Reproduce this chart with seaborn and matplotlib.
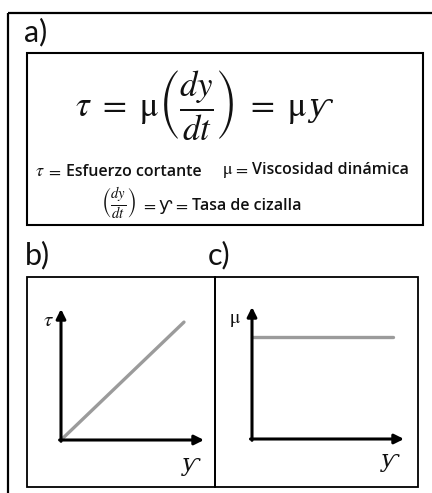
import matplotlib
matplotlib.use("Agg")
import matplotlib.pyplot as plt
import seaborn as sns
import pandas as pd
from matplotlib.patches import Rectangle

sns.set_theme(style="white")
plt.rcParams["font.family"] = ["Open Sans", "DejaVu Sans"]
plt.rcParams["mathtext.fontset"] = "stix"

# Newtonian fluid: shear stress grows linearly with shear rate,
# viscosity stays constant.
shear_rate_b = [0.0, 0.86]
shear_stress = [0.0, 0.90]
shear_rate_c = [0.0, 0.93]
viscosity = [0.77, 0.77]

panel_labels = ["a)", "b)", "c)"]
name_tau = "Esfuerzo cortante"
name_mu = "Viscosidad dinámica"
name_rate = "Tasa de cizalla"
RATE = "ƴ"
EQ = r"${=}$"

INK = "#111111"
GRAY = "#9b9b9b"
SERIF_IT = dict(family="DejaVu Serif", style="italic")

W, H = 432, 493
fig = plt.figure(figsize=(W / 100, H / 100), dpi=100)

# Canvas axis in pixel units for frames and text
bg = fig.add_axes([0, 0, 1, 1])
bg.set_xlim(0, W)
bg.set_ylim(H, 0)
bg.axis("off")


def put(x, y, s, size, ha="left", va="baseline", **kw):
    bg.text(x, y, s, fontsize=size, ha=ha, va=va, color=INK, **kw)


# Outer frame (top and left edges)
bg.plot([8, W], [13, 13], color="black", lw=1.6, solid_capstyle="butt")
bg.plot([8, 8], [13, H], color="black", lw=1.6, solid_capstyle="butt")

# Panel boxes
bg.add_patch(Rectangle((27, 53), 396, 172, fill=False, ec="black", lw=1.5))
bg.add_patch(Rectangle((27, 277), 188, 210, fill=False, ec="black", lw=1.3))
bg.add_patch(Rectangle((215, 277), 203, 210, fill=False, ec="black", lw=1.3))

# Panel labels
for lab, (x, y) in zip(panel_labels, [(24, 32), (25, 255), (208, 255)]):
    put(x, y, lab, 22, va="center", family="Lato")

# Main equation
put(75, 116, r"$\tau\ =\ \mathrm{\mu}\left(\dfrac{dy}{dt}\right)\ =\ \mathrm{\mu}$", 25)
put(308, 116, RATE, 22, **SERIF_IT)

# Definitions, first line
put(35, 176, r"$\tau$", 13)
put(46, 176, EQ, 12.5)
put(66, 176, name_tau, 11.5, fontweight="semibold")
put(222, 174, r"$\mathrm{\mu}$", 13)
put(233, 174, EQ, 12.5)
put(252, 174, name_mu, 11.5, fontweight="semibold")

# Definitions, second line
put(101, 203, r"$\left(\frac{dy}{dt}\right)$", 15, va="center")
put(141, 210, EQ, 12.5)
put(158, 210, RATE, 13, family="DejaVu Sans")
put(173, 210, EQ, 12.5)
put(192, 210, name_rate, 11.5, fontweight="semibold")


def panel(left, bottom_px, right, top_px, x, y):
    ax = fig.add_axes([left / W, (H - bottom_px) / H,
                       (right - left) / W, (bottom_px - top_px) / H])
    ax.set_xlim(0, 1)
    ax.set_ylim(0, 1)
    ax.axis("off")
    df = pd.DataFrame({"x": x, "y": y})
    sns.lineplot(data=df, x="x", y="y", color=GRAY, lw=2.4, ax=ax,
                 zorder=3, clip_on=False)
    arrow = dict(arrowstyle="-|>", lw=2.2, color="black", mutation_scale=14,
                 shrinkA=0, shrinkB=0)
    ax.annotate("", xy=(1, 0), xytext=(-0.01, 0), xycoords="axes fraction",
                arrowprops=arrow)
    ax.annotate("", xy=(0, 1), xytext=(0, -0.01), xycoords="axes fraction",
                arrowprops=arrow)
    return ax


panel(61, 440, 204, 309, shear_rate_b, shear_stress)
panel(252, 439, 404, 307, shear_rate_c, viscosity)

# Axis labels
put(48, 321, r"$\tau$", 15, ha="center", va="center")
put(191, 464, RATE, 17, ha="center", va="center", **SERIF_IT)
put(235, 320, r"$\mathrm{\mu}$", 14, ha="center", va="center")
put(390, 461, RATE, 17, ha="center", va="center", **SERIF_IT)

fig.savefig("out.png", dpi=100)
